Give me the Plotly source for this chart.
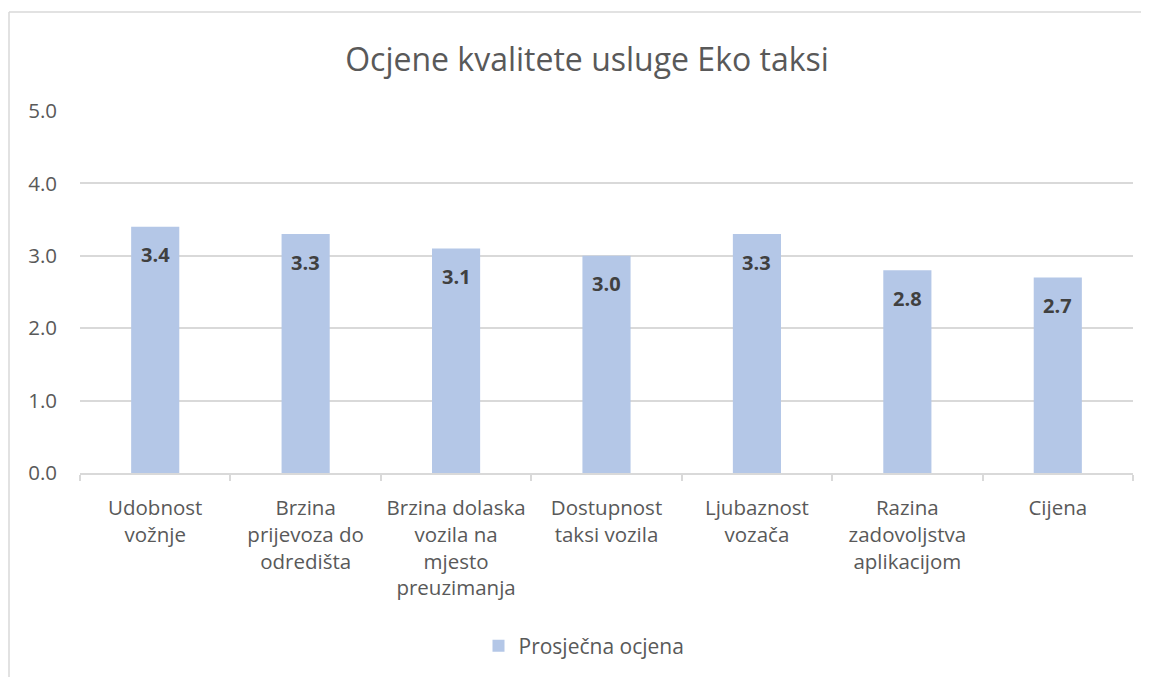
import plotly.graph_objects as go

categories = [
    "Udobnost<br>vožnje",
    "Brzina<br>prijevoza do<br>odredišta",
    "Brzina dolaska<br>vozila na<br>mjesto<br>preuzimanja",
    "Dostupnost<br>taksi vozila",
    "Ljubaznost<br>vozača",
    "Razina<br>zadovoljstva<br>aplikacijom",
    "Cijena",
]
values = [3.4, 3.3, 3.1, 3.0, 3.3, 2.8, 2.7]
series_name = "Prosječna ocjena"
title_text = "Ocjene kvalitete usluge Eko taksi"
y_ticks = [0, 1, 2, 3, 4, 5]

# page has an 8px body margin; figure coordinates are page - 8
OFF = 8
W, H = 1149 - OFF, 677 - OFF
L, T = 80 - OFF, 111 - OFF
R = W - (1133 - OFF)
B = H - (473 - OFF)
pw = W - L - R
ph = H - T - B

FONT = "Open Sans"

fig = go.Figure()
fig.add_trace(go.Bar(
    x=categories,
    y=values,
    name=series_name,
    marker=dict(color="#B4C7E7", line=dict(width=0)),
    width=0.32,
    showlegend=True,
))

for c, v in zip(categories, values):
    fig.add_annotation(
        x=c, y=v, text=f"<b>{v:.1f}</b>", showarrow=False,
        yanchor="middle", yshift=-28,
        font=dict(family=FONT, size=20, color="#404040"),
    )

# chart-area border (Excel style)
bx0 = (9 - OFF - L) / pw
by1 = 1 + (T - (12 - OFF)) / ph
fig.add_shape(type="line", xref="paper", yref="paper",
              x0=bx0, x1=(W + 5 - L) / pw, y0=by1, y1=by1,
              line=dict(color="#D9D9D9", width=1.5))
fig.add_shape(type="line", xref="paper", yref="paper",
              x0=bx0, x1=bx0, y0=by1, y1=-(B + 5) / ph,
              line=dict(color="#D9D9D9", width=1.5))

fig.update_layout(
    width=W, height=H,
    margin=dict(l=L, r=R, t=T, b=B, autoexpand=False),
    paper_bgcolor="white",
    plot_bgcolor="white",
    title=dict(text=title_text, x=(587 - OFF - L) / pw, xref="paper", xanchor="center",
               y=1 - (60 - OFF) / H, yanchor="middle",
               font=dict(family=FONT, size=32, color="#595959")),
    font=dict(family=FONT, color="#595959"),
    legend=dict(orientation="h", x=(587 - OFF - L - 3) / pw, xanchor="center",
                y=-((646 - OFF) - (T + ph)) / ph,
                yanchor="middle", font=dict(family=FONT, size=21, color="#595959"),
                itemsizing="constant"),
    bargap=0.68,
)
fig.update_xaxes(
    type="category",
    showline=True, linecolor="#D9D9D9", linewidth=1.5,
    ticks="outside", tickson="boundaries", ticklen=6, tickcolor="#D9D9D9", tickwidth=1.5,
    tickfont=dict(family=FONT, size=20.5, color="#595959"),
    ticklabelstandoff=16,
    showgrid=False,
)
fig.update_yaxes(
    range=[0, 5], tickvals=y_ticks, tickformat=".1f",
    showgrid=True, gridcolor="#D9D9D9", gridwidth=1.5,
    zeroline=False, showline=False,
    tickfont=dict(family=FONT, size=20.5, color="#595959"),
    ticks="", ticklabelstandoff=22,
)

fig.write_html("out.html")
